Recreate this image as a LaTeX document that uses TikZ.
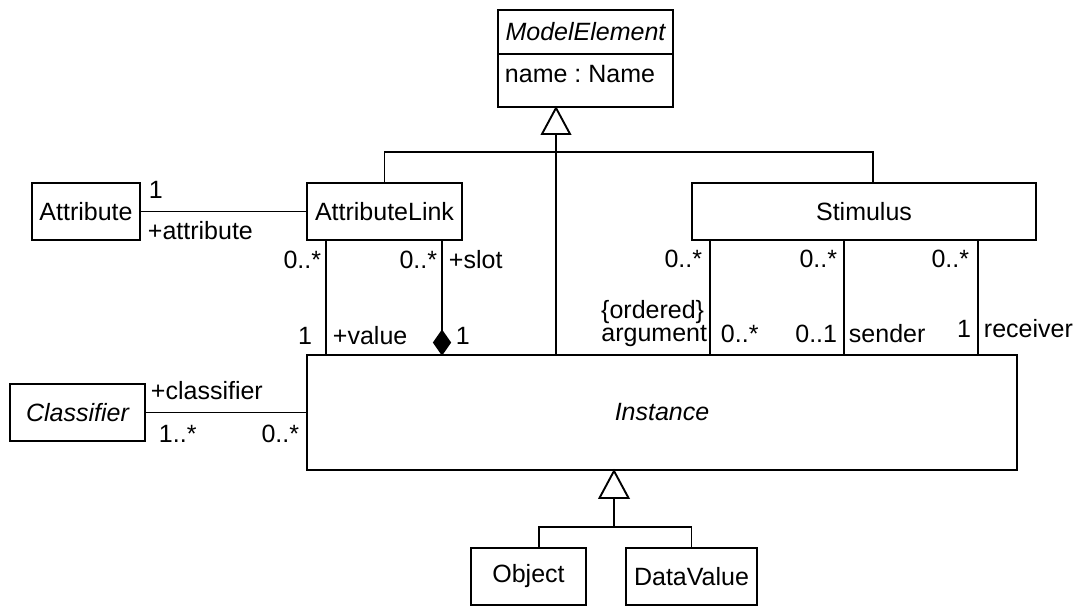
\documentclass[tikz,border=0pt]{standalone}
\usepackage{fontspec}
\setmainfont{Liberation Sans}
\usetikzlibrary{calc}
\frenchspacing
\begin{document}
\begin{tikzpicture}[x=1pt,y=-1pt,line width=1.9pt,
  txt/.style={font=\fontsize{25}{27}\selectfont},
  cls/.style={draw,inner sep=0pt,txt},
  lbl/.style={inner sep=0pt,txt},
  gen/.style={fill=white,line join=miter}]
\useasboundingbox (0,0) rectangle (1078,606);

% classes
\node[cls,minimum width=175pt,minimum height=97pt] (me) at (585.5,58.5) {};
\node[lbl] (metitle) at (585.5,32) {\itshape ModelElement};
\node[lbl,anchor=base west] (meattr) at (504,82) {name : Name};
\draw ([yshift=-45pt]me.north west) -- ([yshift=-45pt]me.north east);

\node[cls,minimum width=108pt,minimum height=57pt] (attr) at (86,211.5) {Attribute};
\node[cls,minimum width=155pt,minimum height=57pt] (al) at (384.5,211.5) {AttributeLink};
\node[cls,minimum width=344pt,minimum height=57pt] (st) at (864,211.5) {Stimulus};
\node[cls,minimum width=710pt,minimum height=115pt] (inst) at (662,412.5) {\itshape Instance};
\node[cls,minimum width=135pt,minimum height=57pt] (clsf) at (77.5,412.5) {\itshape Classifier};
\node[cls,minimum width=115pt,minimum height=57pt] (obj) at (528.5,576.5) {Object};
\node[cls,minimum width=131pt,minimum height=57pt] (dv) at (691.5,576.5) {DataValue};

% generalization: AttributeLink, Stimulus, Instance -> ModelElement
\path (inst.north) ++(-106,0) coordinate (ig);
\path (ig |- me.south) coordinate (meapex);
\path (st.north) ++(9,0) coordinate (sg);
\draw (al.north) -- ++(0,-30) -| (sg);
\draw (ig) -- ($(meapex)+(0,26)$);
\draw[gen] (meapex) -- ++(-14,26) -- ++(28,0) -- cycle;

% generalization: Object, DataValue -> Instance
\path (inst.south) ++(-48,0) coordinate (instapex);
\path (obj.north) ++(10.5,0) coordinate (og);
\draw ($(instapex)+(0,27)$) -- ++(0,29) coordinate (ibar);
\draw (og) |- (ibar) -| (dv.north);
\draw[gen] (instapex) -- ++(-14.5,27) -- ++(29,0) -- cycle;

% associations
\draw (attr.east) -- (al.west);
\draw (clsf.east) -- (inst.west |- clsf.east);

\path (al.south) ++(-58.5,0) coordinate (alv);
\path (al.south) ++(57.5,0) coordinate (als);
\draw (alv) -- (alv |- inst.north);
\path (als |- inst.north) coordinate (dmd);
\draw (als) -- ($(dmd)+(0,-23)$);
\draw[fill=black,line join=miter] (dmd) -- ++(-8,-11.5) -- ++(8,-11.5) -- ++(8,11.5) -- cycle;

\path (st.south) ++(-154,0) coordinate (sa);
\path (st.south) ++(-20,0) coordinate (ss);
\path (st.south) ++(114,0) coordinate (sr);
\draw (sa) -- (sa |- inst.north);
\draw (ss) -- (ss |- inst.north);
\draw (sr) -- (sr |- inst.north);

% association end labels
\node[lbl,anchor=base west] (l1) at (148,198) {1};
\node[lbl,anchor=base west] (l2) at (147,239) {+attribute};
\node[lbl,anchor=base east] (l3) at (322,268) {0..*};
\node[lbl,anchor=base east] (l4) at (438,268) {0..*};
\node[lbl,anchor=base west] (l5) at (448,268) {+slot};
\node[lbl,anchor=base east] (l6) at (313,344) {1};
\node[lbl,anchor=base west] (l7) at (332,344) {+value};
\node[lbl,anchor=base west] (l8) at (455,344) {1};

\node[lbl,anchor=base east] (s1) at (703,267) {0..*};
\node[lbl,anchor=base east] (s2) at (838,267) {0..*};
\node[lbl,anchor=base east] (s3) at (970,267) {0..*};
\node[lbl,anchor=base east] (s4) at (705,318) {\{ordered\}};
\node[lbl,anchor=base east] (s5) at (708,341) {argument};
\node[lbl,anchor=base west] (s6) at (720,342) {0..*};
\node[lbl,anchor=base east] (s7) at (838,342) {0..1};
\node[lbl,anchor=base west] (s8) at (848,342) {sender};
\node[lbl,anchor=base east] (s9) at (972,337) {1};
\node[lbl,anchor=base west] (s10) at (983,337) {receiver};

\node[lbl,anchor=base west] (c1) at (150,399) {+classifier};
\node[lbl,anchor=base west] (c2) at (158,442) {1..*};
\node[lbl,anchor=base east] (c3) at (300,442) {0..*};
\end{tikzpicture}
\end{document}
